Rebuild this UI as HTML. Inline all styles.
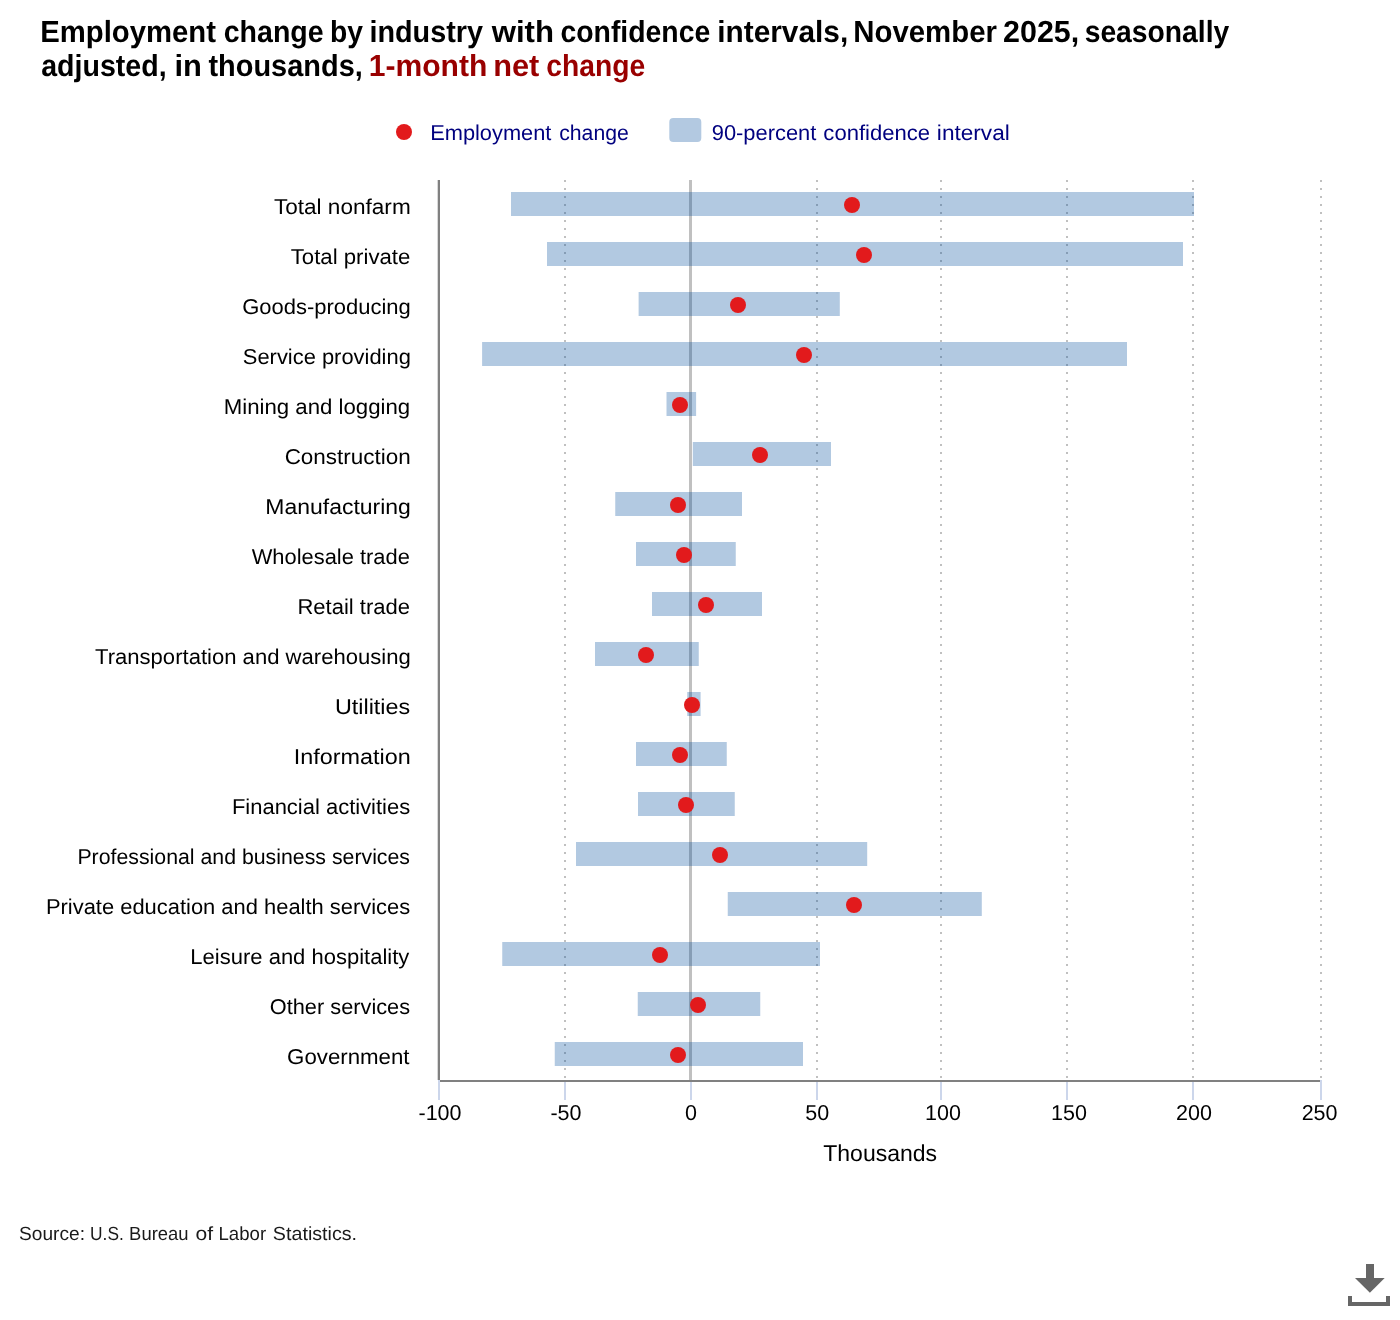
<!DOCTYPE html>
<html lang="en"><head><meta charset="utf-8"><title>Employment change by industry with confidence intervals</title>
<style>
html,body{margin:0;padding:0;background:#fff;}
body{width:1400px;height:1320px;overflow:hidden;font-family:"Liberation Sans",sans-serif;}
svg{display:block;will-change:transform;}
text{font-family:"Liberation Sans",sans-serif;text-rendering:geometricPrecision;}
.t{font-weight:bold;font-size:30.5px;fill:#000;}
.tr{font-weight:bold;font-size:30.5px;fill:#990000;}
.yl{font-size:21.5px;fill:#000;}
.xl{font-size:21.5px;fill:#000;text-anchor:middle;}
.lg{font-size:21.5px;fill:#00007f;}
.ax{font-size:23px;fill:#000;}
.src{font-size:19px;fill:#1a1a1a;}
</style></head><body>
<svg width="1400" height="1320" viewBox="0 0 1400 1320">
<defs><pattern id="dots" x="0" y="180" width="2" height="8" patternUnits="userSpaceOnUse"><rect x="0" y="0" width="2" height="2" fill="#c0c0c0"/></pattern></defs>
<rect x="0" y="0" width="1400" height="1320" fill="#ffffff"/>

<!-- chart title -->
<text class="t" x="40.25" y="42" textLength="175.75" lengthAdjust="spacingAndGlyphs">Employment</text>
<text class="t" x="223.72" y="42" textLength="99.88" lengthAdjust="spacingAndGlyphs">change</text>
<text class="t" x="330.01" y="42" textLength="32.99" lengthAdjust="spacingAndGlyphs">by</text>
<text class="t" x="369.45" y="42" textLength="113.55" lengthAdjust="spacingAndGlyphs">industry</text>
<text class="t" x="491.72" y="42" textLength="62.33" lengthAdjust="spacingAndGlyphs">with</text>
<text class="t" x="560.48" y="42" textLength="149.79" lengthAdjust="spacingAndGlyphs">confidence</text>
<text class="t" x="717.24" y="42" textLength="130.98" lengthAdjust="spacingAndGlyphs">intervals,</text>
<text class="t" x="853.28" y="42" textLength="143.68" lengthAdjust="spacingAndGlyphs">November</text>
<text class="t" x="1003.1" y="42" textLength="76.16" lengthAdjust="spacingAndGlyphs">2025,</text>
<text class="t" x="1084.67" y="42" textLength="144.6" lengthAdjust="spacingAndGlyphs">seasonally</text>
<text class="t" x="41.23" y="76" textLength="125.42" lengthAdjust="spacingAndGlyphs">adjusted,</text>
<text class="t" x="174.55" y="76" textLength="27.42" lengthAdjust="spacingAndGlyphs">in</text>
<text class="t" x="208.47" y="76" textLength="154.31" lengthAdjust="spacingAndGlyphs">thousands,</text>
<text class="tr" x="368.7" y="76" textLength="118.62" lengthAdjust="spacingAndGlyphs">1-month</text>
<text class="tr" x="493.22" y="76" textLength="46.14" lengthAdjust="spacingAndGlyphs">net</text>
<text class="tr" x="546.3" y="76" textLength="98.97" lengthAdjust="spacingAndGlyphs">change</text>
<!-- legend -->
<circle cx="404" cy="132" r="8" fill="#e21a1c"/>
<rect x="669.3" y="118" width="32" height="24" rx="4" ry="4" fill="#b3c9e1"/>
<text class="lg" x="430.18" y="140" textLength="121.24" lengthAdjust="spacingAndGlyphs">Employment</text>
<text class="lg" x="559.18" y="140" textLength="69.67" lengthAdjust="spacingAndGlyphs">change</text>
<text class="lg" x="711.72" y="140" textLength="104.61" lengthAdjust="spacingAndGlyphs">90-percent</text>
<text class="lg" x="823.37" y="140" textLength="106.79" lengthAdjust="spacingAndGlyphs">confidence</text>
<text class="lg" x="936.89" y="140" textLength="72.91" lengthAdjust="spacingAndGlyphs">interval</text>
<!-- grid lines -->
<rect x="564" y="180" width="2" height="900" fill="url(#dots)"/>
<rect x="816" y="180" width="2" height="900" fill="url(#dots)"/>
<rect x="940" y="180" width="2" height="900" fill="url(#dots)"/>
<rect x="1066" y="180" width="2" height="900" fill="url(#dots)"/>
<rect x="1192" y="180" width="2" height="900" fill="url(#dots)"/>
<rect x="1320" y="180" width="2" height="900" fill="url(#dots)"/>
<rect x="689" y="180" width="3" height="900" fill="#c0c0c0"/>
<!-- confidence interval bars -->
<g fill="rgba(0,75,155,0.3)">
<rect x="511" y="192" width="683" height="24"/>
<rect x="547" y="242" width="636" height="24"/>
<rect x="638.6" y="292" width="201.2" height="24"/>
<rect x="482.1" y="342" width="644.9" height="24"/>
<rect x="666.5" y="392" width="29.6" height="24"/>
<rect x="692.8" y="442" width="138.2" height="24"/>
<rect x="615.25" y="492" width="126.75" height="24"/>
<rect x="636" y="542" width="99.75" height="24"/>
<rect x="652" y="592" width="110" height="24"/>
<rect x="595" y="642" width="103.75" height="24"/>
<rect x="687.25" y="692" width="13.35" height="24"/>
<rect x="636" y="742" width="90.75" height="24"/>
<rect x="638" y="792" width="96.75" height="24"/>
<rect x="576" y="842" width="291.2" height="24"/>
<rect x="727.75" y="892" width="254.05" height="24"/>
<rect x="502.25" y="942" width="317.75" height="24"/>
<rect x="637.75" y="992" width="122.5" height="24"/>
<rect x="554.75" y="1042" width="248.25" height="24"/>
</g>
<!-- employment change markers -->
<g fill="#e21a1c">
<circle cx="852" cy="205" r="8"/>
<circle cx="864" cy="255" r="8"/>
<circle cx="738" cy="305" r="8"/>
<circle cx="804" cy="355" r="8"/>
<circle cx="680" cy="405" r="8"/>
<circle cx="760" cy="455" r="8"/>
<circle cx="678" cy="505" r="8"/>
<circle cx="684" cy="555" r="8"/>
<circle cx="706" cy="605" r="8"/>
<circle cx="646" cy="655" r="8"/>
<circle cx="692" cy="705" r="8"/>
<circle cx="680" cy="755" r="8"/>
<circle cx="686" cy="805" r="8"/>
<circle cx="720" cy="855" r="8"/>
<circle cx="854" cy="905" r="8"/>
<circle cx="660" cy="955" r="8"/>
<circle cx="698" cy="1005" r="8"/>
<circle cx="678" cy="1055" r="8"/>
</g>
<!-- axes -->
<rect x="437.7" y="180" width="2.3" height="900" fill="#808080"/>
<rect x="440" y="1080" width="880" height="2" fill="#808080"/>
<g fill="#ccd6eb">
<rect x="438" y="1080" width="2" height="20"/>
<rect x="564" y="1082" width="2" height="18"/>
<rect x="690" y="1082" width="2" height="18"/>
<rect x="816" y="1082" width="2" height="18"/>
<rect x="940" y="1082" width="2" height="18"/>
<rect x="1066" y="1082" width="2" height="18"/>
<rect x="1192" y="1082" width="2" height="18"/>
<rect x="1320" y="1080" width="2" height="20"/>
</g>
<!-- category labels -->
<text class="yl" x="273.91" y="214" textLength="136.8" lengthAdjust="spacingAndGlyphs">Total nonfarm</text>
<text class="yl" x="290.69" y="264" textLength="119.7" lengthAdjust="spacingAndGlyphs">Total private</text>
<text class="yl" x="242.22" y="314" textLength="168.6" lengthAdjust="spacingAndGlyphs">Goods-producing</text>
<text class="yl" x="242.8" y="364" textLength="168.04" lengthAdjust="spacingAndGlyphs">Service providing</text>
<text class="yl" x="223.7" y="414" textLength="186.54" lengthAdjust="spacingAndGlyphs">Mining and logging</text>
<text class="yl" x="284.65" y="464" textLength="126.1" lengthAdjust="spacingAndGlyphs">Construction</text>
<text class="yl" x="265.34" y="514" textLength="145.52" lengthAdjust="spacingAndGlyphs">Manufacturing</text>
<text class="yl" x="251.72" y="564" textLength="158.11" lengthAdjust="spacingAndGlyphs">Wholesale trade</text>
<text class="yl" x="297.41" y="614" textLength="112.64" lengthAdjust="spacingAndGlyphs">Retail trade</text>
<text class="yl" x="95.0" y="664" textLength="315.72" lengthAdjust="spacingAndGlyphs">Transportation and warehousing</text>
<text class="yl" x="334.91" y="714" textLength="75.25" lengthAdjust="spacingAndGlyphs">Utilities</text>
<text class="yl" x="293.78" y="764" textLength="117.03" lengthAdjust="spacingAndGlyphs">Information</text>
<text class="yl" x="231.9" y="814" textLength="178.31" lengthAdjust="spacingAndGlyphs">Financial activities</text>
<text class="yl" x="77.39" y="864" textLength="332.63" lengthAdjust="spacingAndGlyphs">Professional and business services</text>
<text class="yl" x="45.9" y="914" textLength="364.32" lengthAdjust="spacingAndGlyphs">Private education and health services</text>
<text class="yl" x="190.39" y="964" textLength="218.95" lengthAdjust="spacingAndGlyphs">Leisure and hospitality</text>
<text class="yl" x="269.81" y="1014" textLength="140.3" lengthAdjust="spacingAndGlyphs">Other services</text>
<text class="yl" x="287.08" y="1064" textLength="122.47" lengthAdjust="spacingAndGlyphs">Government</text>
<!-- value axis labels -->
<text class="xl" x="440" y="1120">-100</text>
<text class="xl" x="566" y="1120">-50</text>
<text class="xl" x="691" y="1120">0</text>
<text class="xl" x="817.3" y="1120">50</text>
<text class="xl" x="943" y="1120">100</text>
<text class="xl" x="1069" y="1120">150</text>
<text class="xl" x="1194" y="1120">200</text>
<text class="xl" x="1319.6" y="1120">250</text>
<text class="ax" x="823.26" y="1161" textLength="113.86" lengthAdjust="spacingAndGlyphs">Thousands</text>
<!-- source -->
<text class="src" x="19.04" y="1240" textLength="65.96" lengthAdjust="spacingAndGlyphs">Source:</text>
<text class="src" x="90.1" y="1240" textLength="33.74" lengthAdjust="spacingAndGlyphs">U.S.</text>
<text class="src" x="129.11" y="1240" textLength="59.42" lengthAdjust="spacingAndGlyphs">Bureau</text>
<text class="src" x="195.46" y="1240" textLength="17.57" lengthAdjust="spacingAndGlyphs">of</text>
<text class="src" x="218.53" y="1240" textLength="47.62" lengthAdjust="spacingAndGlyphs">Labor</text>
<text class="src" x="272.89" y="1240" textLength="84.23" lengthAdjust="spacingAndGlyphs">Statistics.</text>
<!-- download icon -->
<g fill="#666666"><rect x="1366" y="1264" width="8" height="14.2"/><polygon points="1355,1278 1384.7,1278 1369.9,1292.8"/><path d="M1348,1296h4v6h34v-6h4v10h-42z"/></g>
</svg></body></html>
